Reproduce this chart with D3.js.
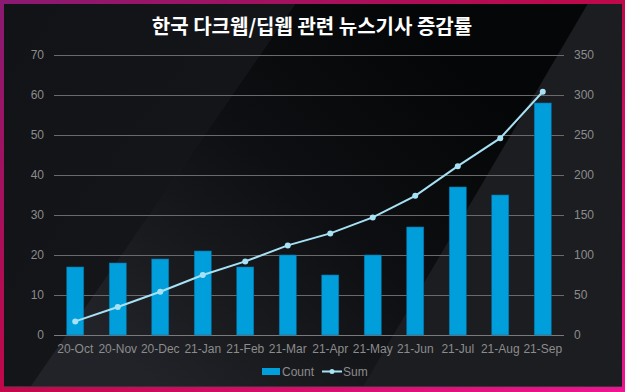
<!DOCTYPE html>
<html>
<head>
<meta charset="utf-8">
<script src="https://cdn.jsdelivr.net/npm/d3@7"></script>
<style>
  body { margin: 0; background: #121418; }
  svg { display: block; }
  .tick text { font-family: "Liberation Sans", Arial, sans-serif; font-size: 12px; fill: #8c8c8c; }
</style>
</head>
<body>
<div id="chart"></div>
<script>
// data
var months = ["20-Oct", "20-Nov", "20-Dec", "21-Jan", "21-Feb", "21-Mar",
    "21-Apr", "21-May", "21-Jun", "21-Jul", "21-Aug", "21-Sep"];
var countValues = [17, 18, 19, 21, 17, 20, 15, 20, 27, 37, 35, 58];
var sumValues = [17, 35, 54, 75, 92, 112, 127, 147, 174, 211, 246, 304];
var leftTicks = [0, 10, 20, 30, 40, 50, 60, 70];
var rightTicks = [0, 50, 100, 150, 200, 250, 300, 350];
var chartTitle = "한국 다크웹/딥웹 관련 뉴스기사 증감률";

var width = 625, height = 392;
var plotLeft = 54, plotRight = 564, plotTop = 55, plotBottom = 335;

var svg = d3.select("#chart").append("svg")
    .attr("width", width)
    .attr("height", height);
var defs = svg.append("defs");

// frame gradient
var frameGrad = defs.append("linearGradient")
    .attr("id", "frameGrad")
    .attr("x1", 0).attr("y1", 0).attr("x2", 1).attr("y2", 1);
frameGrad.append("stop").attr("offset", "0%").attr("stop-color", "#8a1a72");
frameGrad.append("stop").attr("offset", "50%").attr("stop-color", "#c0084a");
frameGrad.append("stop").attr("offset", "100%").attr("stop-color", "#ee1590");

var bandGrad = defs.append("linearGradient")
    .attr("id", "bandGrad")
    .attr("gradientUnits", "userSpaceOnUse")
    .attr("x1", 150).attr("y1", 380).attr("x2", 450).attr("y2", 60);
bandGrad.append("stop").attr("offset", "0%").attr("stop-color", "#212328");
bandGrad.append("stop").attr("offset", "55%").attr("stop-color", "#0e0f12");
bandGrad.append("stop").attr("offset", "100%").attr("stop-color", "#050607");

var leftGrad = defs.append("linearGradient")
    .attr("id", "leftGrad")
    .attr("x1", 0).attr("y1", 0).attr("x2", 1).attr("y2", 1);
leftGrad.append("stop").attr("offset", "0%").attr("stop-color", "#111317");
leftGrad.append("stop").attr("offset", "100%").attr("stop-color", "#15171b");

svg.append("rect")
    .attr("width", width).attr("height", height)
    .attr("fill", "url(#frameGrad)");

// background pieces
var inner = {x: 4, y: 4, w: 618, h: 383};
defs.append("clipPath").attr("id", "innerClip")
    .append("rect")
    .attr("x", inner.x).attr("y", inner.y)
    .attr("width", inner.w).attr("height", inner.h);
var bg = svg.append("g").attr("clip-path", "url(#innerClip)");
bg.append("rect")
    .attr("x", inner.x).attr("y", inner.y)
    .attr("width", inner.w).attr("height", inner.h)
    .attr("fill", "#1b1d21");
bg.append("polygon")
    .attr("points", "0,0 298,0 27,392 0,392")
    .attr("fill", "url(#leftGrad)");
bg.append("polygon")
    .attr("points", "298,0 590,0 360,392 27,392")
    .attr("fill", "url(#bandGrad)");
bg.append("line")
    .attr("x1", inner.x).attr("x2", inner.x + inner.w)
    .attr("y1", inner.y + inner.h - 0.5).attr("y2", inner.y + inner.h - 0.5)
    .attr("stroke", "#34363b");

// title
svg.append("text")
    .attr("x", 312)
    .attr("y", 34)
    .attr("text-anchor", "middle")
    .style("font-family", "'Noto Sans CJK KR', sans-serif")
    .style("font-weight", "bold")
    .style("font-size", "20px")
    .style("fill", "#ffffff")
    .text(chartTitle);

// scales
var x_scale = d3.scaleBand()
    .domain(months)
    .range([plotLeft, plotRight])
    .paddingInner(0.6)
    .paddingOuter(0.3);
var y_left = d3.scaleLinear()
    .domain([0, 70])
    .range([plotBottom, plotTop]);
var y_right = d3.scaleLinear()
    .domain([0, 350])
    .range([plotBottom, plotTop]);

// gridlines
svg.append("g").selectAll("line")
    .data(leftTicks).enter()
    .append("line")
    .attr("x1", plotLeft).attr("x2", plotRight)
    .attr("y1", (d) => {return Math.round(y_left(d)) + 0.5})
    .attr("y2", (d) => {return Math.round(y_left(d)) + 0.5})
    .attr("stroke", (d) => {return d == 0 ? "#7a7a7a" : "#6a6a6a"})
    .attr("stroke-width", 1);

// axes
var leftAxis = d3.axisLeft(y_left).tickValues(leftTicks).tickSize(0).tickPadding(10);
var rightAxis = d3.axisRight(y_right).tickValues(rightTicks).tickSize(0).tickPadding(10);
var bottomAxis = d3.axisBottom(x_scale).tickSize(0).tickPadding(9);

svg.append("g")
    .attr("transform", "translate(" + plotLeft + ",0)")
    .call(leftAxis)
    .call((g) => g.select(".domain").remove());
svg.append("g")
    .attr("transform", "translate(" + plotRight + ",0)")
    .call(rightAxis)
    .call((g) => g.select(".domain").remove());
svg.append("g")
    .attr("transform", "translate(0," + plotBottom + ")")
    .call(bottomAxis)
    .call((g) => g.select(".domain").remove());

// bars
svg.append("g").selectAll("rect")
    .data(countValues).enter()
    .append("rect")
    .attr("x", (d, i) => {return x_scale(months[i])})
    .attr("y", (d) => {return y_left(d)})
    .attr("width", x_scale.bandwidth())
    .attr("height", (d) => {return plotBottom - y_left(d)})
    .attr("fill", "#009fdc")
    .attr("stroke", "#0a6fa0")
    .attr("stroke-width", 0.6);

// line
var cx = (d, i) => {return x_scale(months[i]) + x_scale.bandwidth() / 2};
var sumLine = d3.line()
    .x(cx)
    .y((d) => {return y_right(d)});
svg.append("path")
    .datum(sumValues)
    .attr("d", sumLine)
    .attr("fill", "none")
    .attr("stroke", "#a6e2f4")
    .attr("stroke-width", 2);
svg.append("g").selectAll("circle")
    .data(sumValues).enter()
    .append("circle")
    .attr("cx", cx)
    .attr("cy", (d) => {return y_right(d)})
    .attr("r", 3)
    .attr("fill", "#a6e2f4");

// legend
var legend = svg.append("g")
    .style("font-family", "'Liberation Sans', Arial, sans-serif")
    .style("font-size", "12px")
    .style("fill", "#8c8c8c");
legend.append("rect")
    .attr("x", 262).attr("y", 368)
    .attr("width", 18).attr("height", 7)
    .attr("fill", "#009fdc");
legend.append("text")
    .attr("x", 282).attr("y", 376)
    .text("Count");
legend.append("line")
    .attr("x1", 322).attr("x2", 342)
    .attr("y1", 371.5).attr("y2", 371.5)
    .attr("stroke", "#a6e2f4")
    .attr("stroke-width", 2);
legend.append("circle")
    .attr("cx", 332).attr("cy", 371.5).attr("r", 2.5)
    .attr("fill", "#a6e2f4");
legend.append("text")
    .attr("x", 343).attr("y", 376)
    .text("Sum");
</script>
</body>
</html>
